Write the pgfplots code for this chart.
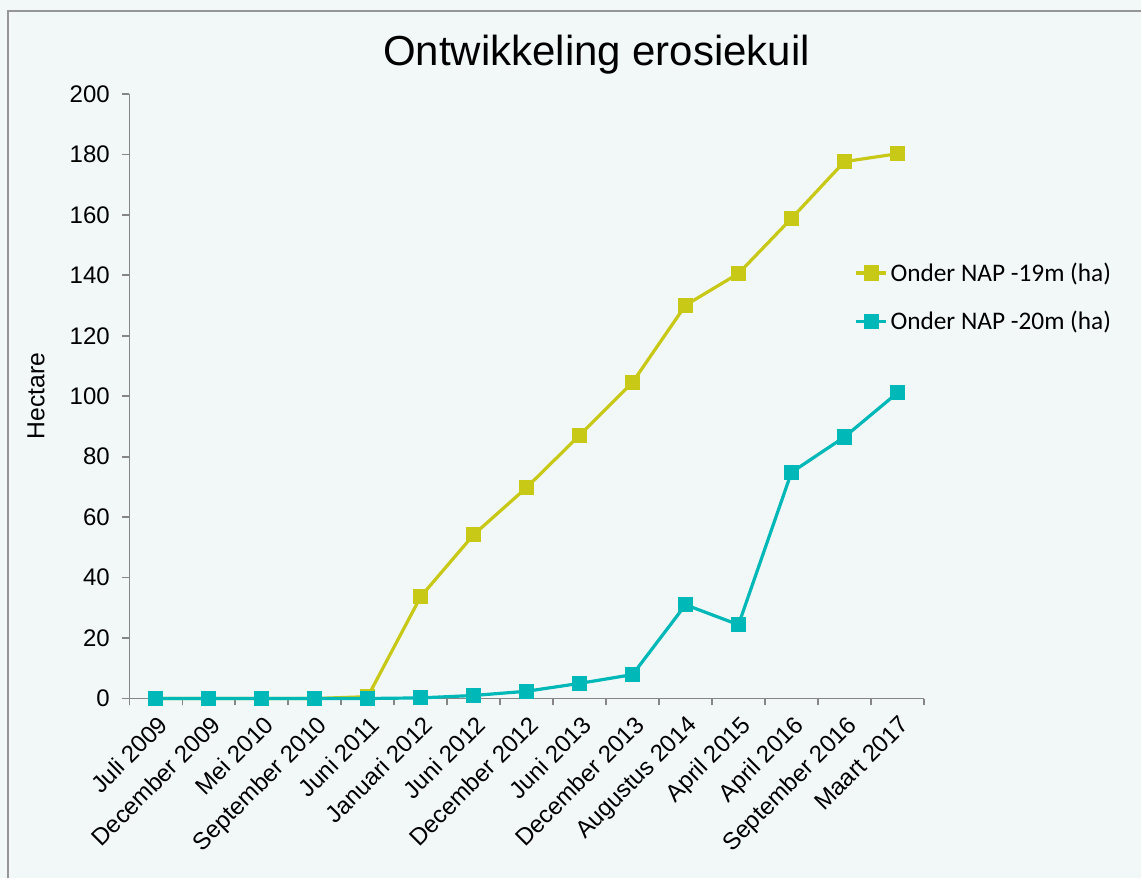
\documentclass[border=0pt]{standalone}
\usepackage{pgfplots}
\pgfplotsset{compat=1.18}
\usepackage{fontspec}
\setmainfont{Liberation Sans}
\newfontfamily\calibri{Carlito}
\definecolor{bg}{RGB}{242,247,247}
\definecolor{frame}{RGB}{150,150,150}
\definecolor{axgray}{RGB}{134,134,134}
\definecolor{yel}{RGB}{200,200,22}
\definecolor{cya}{RGB}{0,184,184}
\begin{document}
\begin{tikzpicture}
\fill[bg] (0pt,0pt) rectangle (856.5pt,659.25pt);
\draw[frame,line width=1.2pt] (6pt,0pt) -- (6pt,651pt) -- (856.5pt,651pt);
\begin{axis}[
  at={(97.125pt,135pt)}, anchor=south west,
  scale only axis,
  width=596.25pt, height=453.75pt,
  xmin=-0.5, xmax=14.5,
  ymin=0, ymax=200,
  ytick={0,20,...,200},
  xtick={0,...,14},
  xticklabels={Juli 2009,December 2009,Mei 2010,September 2010,Juni 2011,Januari 2012,Juni 2012,December 2012,Juni 2013,December 2013,Augustus 2014,April 2015,April 2016,September 2016,Maart 2017},
  minor xtick={-0.5,0.5,...,14.5},
  axis lines*=left,
  axis line style={axgray,line width=1.3pt},
  tick style={axgray,line width=1.3pt},
  major tick length=5.25pt,
  minor tick length=5.25pt,
  xtick style={draw=none},
  minor x tick style={draw=axgray},
  tick align=outside,
  /pgf/number format/assume math mode=true,
  ticklabel style={font=\fontsize{18}{21}\selectfont},
  x tick label style={rotate=45, anchor=north east, inner sep=1pt, yshift=-4pt, xshift=-3pt},
  y tick label style={xshift=-6pt},
  title={Ontwikkeling erosiekuil},
  title style={font=\fontsize{31.5}{36}\selectfont, at={(axis description cs:0.588,1.033)}, anchor=base},
  ylabel={Hectare},
  ylabel style={font=\fontsize{18.5}{22}\selectfont, at={(axis description cs:-0.1176,0.5)}, anchor=center},
  legend style={at={(axis description cs:0.9126,0.6636)}, anchor=west, draw=none, fill=none,
     font=\calibri\fontsize{19}{22}\selectfont, row sep=17pt, inner sep=0pt,
     nodes={inner sep=2pt}},
  legend cell align=left,
  legend image code/.code={\draw[mark repeat=2,mark phase=2] plot coordinates {(0pt,0pt)(11.25pt,0pt)(22.5pt,0pt)};},
  clip=false,
]
\addplot[yel, line width=2.4pt, mark=square*, mark size=4.5pt, mark options={solid}] coordinates {
(0,0) (1,0) (2,0) (3,0) (4,0.6) (5,33.7) (6,54.2) (7,69.8) (8,87.1) (9,104.6) (10,130.1) (11,140.6) (12,158.8) (13,177.6) (14,180.2)};
\addlegendentry{Onder NAP -19m (ha)}
\addplot[cya, line width=2.4pt, mark=square*, mark size=4.5pt, mark options={solid}] coordinates {
(0,0) (1,0) (2,0) (3,0) (4,0) (5,0.2) (6,1.0) (7,2.4) (8,5.0) (9,7.9) (10,31.0) (11,24.4) (12,74.8) (13,86.5) (14,101.1)};
\addlegendentry{Onder NAP -20m (ha)}
\end{axis}
\end{tikzpicture}
\end{document}
